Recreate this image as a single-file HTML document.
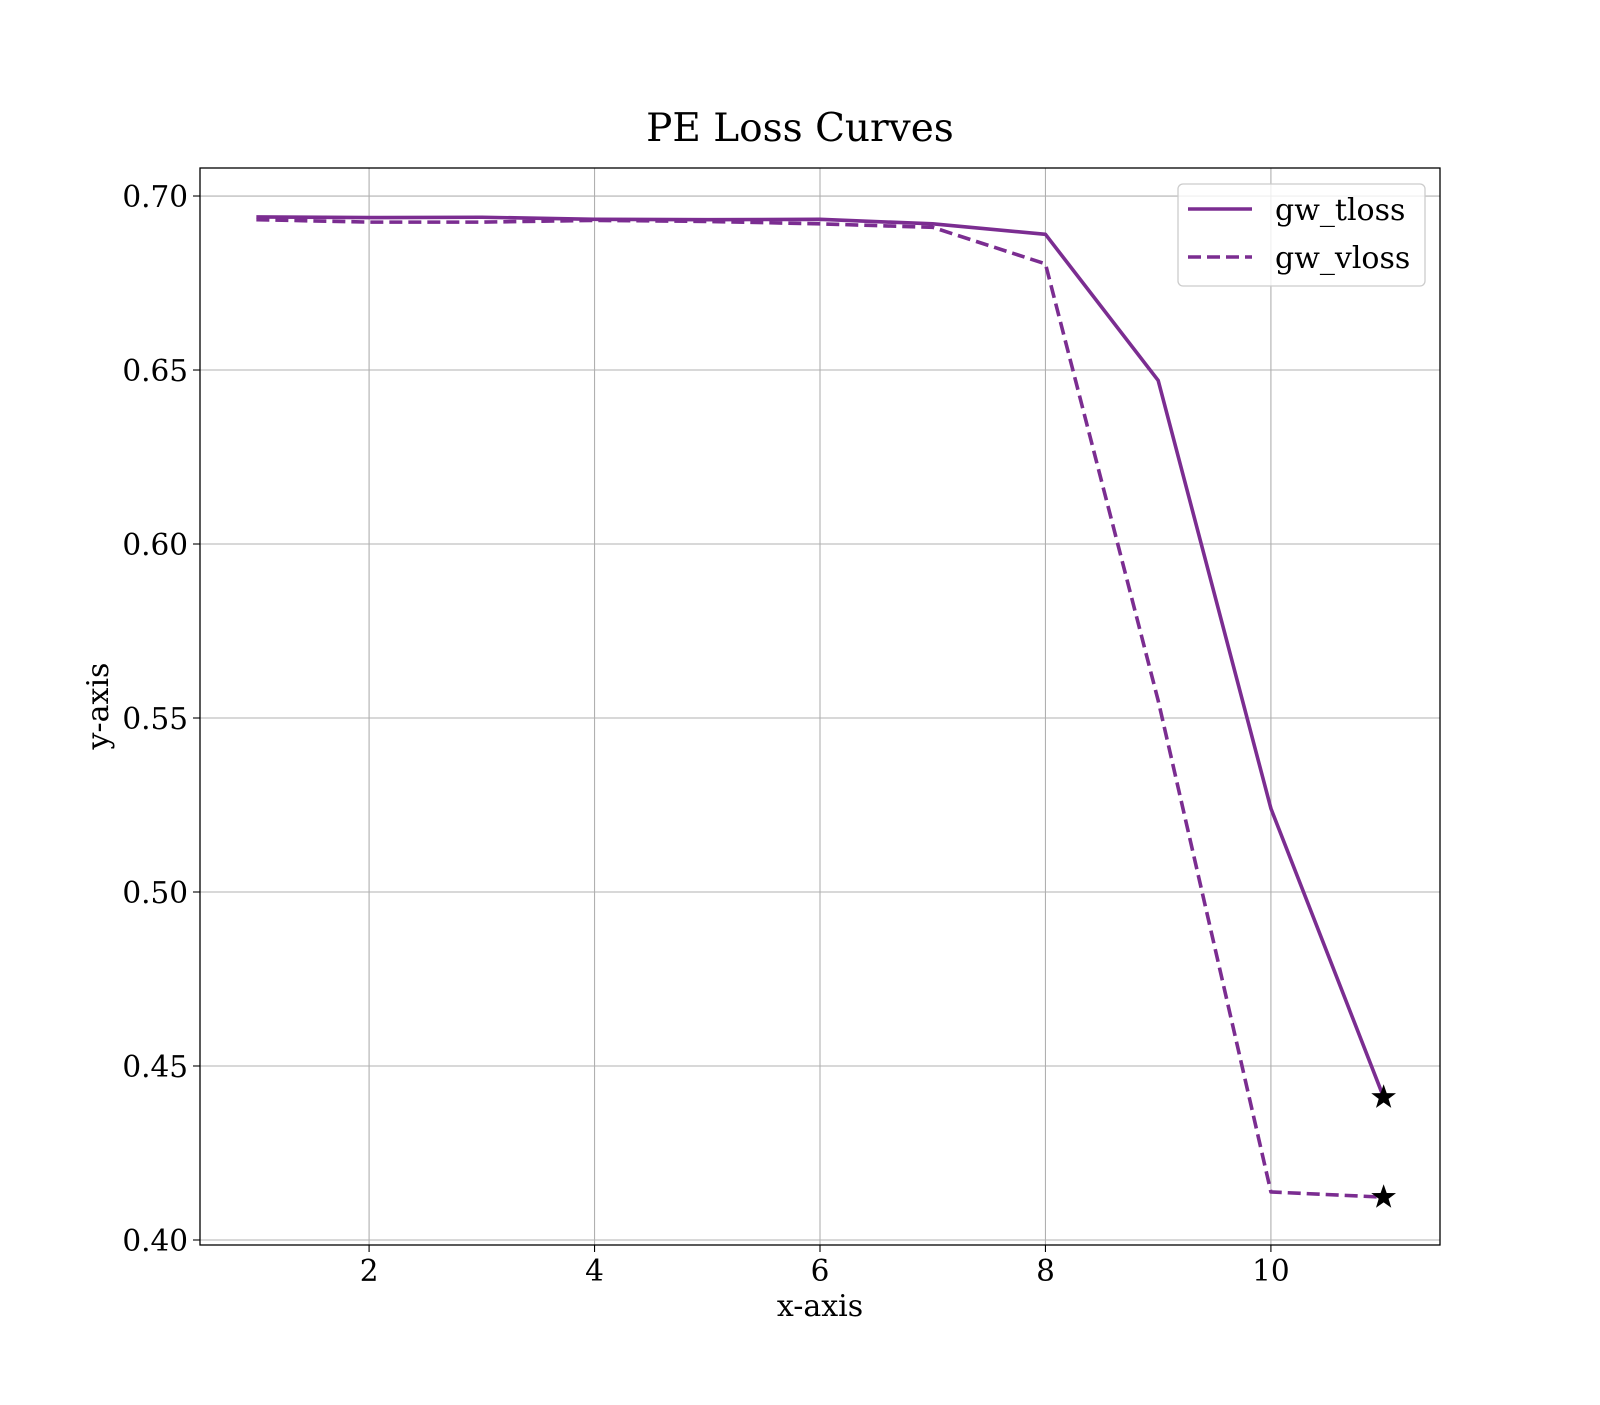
<!DOCTYPE html>
<html><head><meta charset="utf-8"><style>
html,body{margin:0;padding:0;background:#fff;}
svg text{font-family:"DejaVu Serif","Liberation Serif",serif;fill:#000;}
</style></head><body>
<svg id="chart" width="1600" height="1400" viewBox="0 0 1600 1400">
<rect width="1600" height="1400" fill="#fff"/>
<text x="800" y="141" font-size="39" text-anchor="middle">PE Loss Curves</text>
<g id="grid"></g>
<g id="series"></g>
<rect x="200" y="168" width="1240" height="1077" fill="none" stroke="#000" stroke-width="1.3"/>
<g id="ticks"></g>
<text x="820" y="1316" font-size="30" text-anchor="middle">x-axis</text>
<text transform="translate(108,706) rotate(-90)" font-size="30" text-anchor="middle">y-axis</text>
<g>
<rect x="1178" y="184" width="247" height="102" rx="5" fill="#fff" fill-opacity="0.8" stroke="#ccc" stroke-width="1.3"/>
<line x1="1188" y1="209" x2="1252" y2="209" stroke="#7b2d91" stroke-width="3.6"/>
<text x="1275" y="220" font-size="30">gw_tloss</text>
<line x1="1188" y1="257" x2="1252" y2="257" stroke="#7b2d91" stroke-width="3.6" stroke-dasharray="13,6"/>
<text x="1275" y="268" font-size="30">gw_vloss</text>
</g>
</svg>
<script>
const epochs = [1,2,3,4,5,6,7,8,9,10,11];
const tloss = [0.694,0.6938,0.6939,0.6933,0.6932,0.6933,0.692,0.689,0.647,0.524,0.441];
const vloss = [0.6932,0.6925,0.6925,0.693,0.6927,0.692,0.691,0.6805,0.555,0.4138,0.4123];
const xTicks = [2,4,6,8,10];
const yTicks = [0.40,0.45,0.50,0.55,0.60,0.65,0.70];

const NS="http://www.w3.org/2000/svg";
const X0=200,X1=1440,Y0=168,Y1=1245;
const xMin=0.5,xMax=11.5,yMin=0.39856,yMax=0.70805;
function sx(v){return X0+(v-xMin)/(xMax-xMin)*(X1-X0);}
function sy(v){return Y1-(v-yMin)/(yMax-yMin)*(Y1-Y0);}
function mk(tag,attrs,parent){const e=document.createElementNS(NS,tag);for(const k in attrs)e.setAttribute(k,attrs[k]);parent.appendChild(e);return e;}
const grid=document.getElementById('grid'),ticks=document.getElementById('ticks'),series=document.getElementById('series');
xTicks.forEach(t=>{
  const x=sx(t);
  const g=mk('line',{x1:x,x2:x,y1:Y0,y2:Y1,stroke:'#b0b0b0','stroke-width':1.1},grid);
  
  
  const tk=mk('line',{x1:x,x2:x,y1:Y1,y2:Y1+7,stroke:'#000','stroke-width':1.1},ticks);
  
  
  const tx=mk('text',{x:x,y:Y1+36,'font-size':29.5,'text-anchor':'middle'},ticks);
  tx.textContent=t;
  
  
});
yTicks.forEach(t=>{
  const y=sy(t);
  const g=mk('line',{x1:X0,x2:X1,y1:y,y2:y,stroke:'#b0b0b0','stroke-width':1.1},grid);
  
  
  const tk=mk('line',{x1:X0-7,x2:X0,y1:y,y2:y,stroke:'#000','stroke-width':1.1},ticks);
  
  
  const tx=mk('text',{x:X0-12,y:y+11,'font-size':29.5,'text-anchor':'end'},ticks);
  tx.textContent=t.toFixed(2);
  
  
});
function drawLine(vals,dash,name){
  const pts=epochs.map((e,i)=>sx(e)+','+sy(vals[i])).join(' ');
  const a={points:pts,fill:'none',stroke:'#7b2d91','stroke-width':3.6,'stroke-linejoin':'round'};
  if(dash)a['stroke-dasharray']='13,6';
  const p=mk('polyline',a,series);
  
  
  const last=epochs.length-1;
  const cx=sx(epochs[last]),cy=sy(vals[last]);
  const r=13,ri=5.2;let d='';
  for(let k=0;k<10;k++){const rr=k%2?ri:r;const ang=-Math.PI/2+k*Math.PI/5;d+=(k?'L':'M')+(cx+rr*Math.cos(ang)).toFixed(2)+' '+(cy+rr*Math.sin(ang)).toFixed(2);}
  const s=mk('path',{d:d+'Z',fill:'#000'},series);
  
  
}
drawLine(tloss,false,'gw-tloss-line');
drawLine(vloss,true,'gw-vloss-line');
</script>
</body></html>
